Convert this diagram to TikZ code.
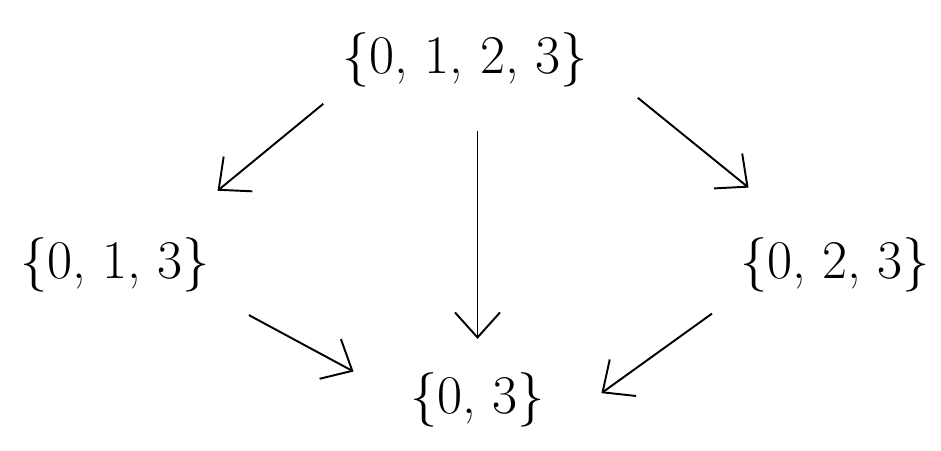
\documentclass[tikz,border=0pt]{standalone}
\usepackage{amsmath}
\usetikzlibrary{arrows.meta, positioning}

\begin{document}
\begin{tikzpicture}[
    set/.style = {inner sep=2pt, font = \fontsize{31}{37}\selectfont},
    link/.style = {-{Straight Barb[length=5mm, width=9mm]}, line width=1.1pt},
    ]
    \useasboundingbox (0,0) rectangle (18.82,9);

    \node[set] (top) at (9.3,7.8) {\{0, 1, 2, 3\}};
    \node[set] (left) at (2.3,3.7) {\{0, 1, 3\}};
    \node[set] (right) at (16.7,3.7) {\{0, 2, 3\}};
    \node[set] (bottom) at (9.55,1.0) {\{0, 3\}};

    \draw[link, shorten <=4mm, shorten >=1mm] (top.south west) -- ([yshift=8mm]left.north east);
    \draw[link, shorten <=8mm, shorten >=6mm] (bottom.north |- top.south) -- (bottom.north);
    \draw[link, shorten <=12mm, shorten >=2mm] (top.east) -- ([shift={(4mm,8mm)}]right.north west);
    \draw[link, shorten <=8mm, shorten >=12mm] (left.south east) -- (bottom.west);
    \draw[link, shorten <=6mm, shorten >=13mm] (right.south west) -- (bottom.south east);
\end{tikzpicture}
\end{document}
